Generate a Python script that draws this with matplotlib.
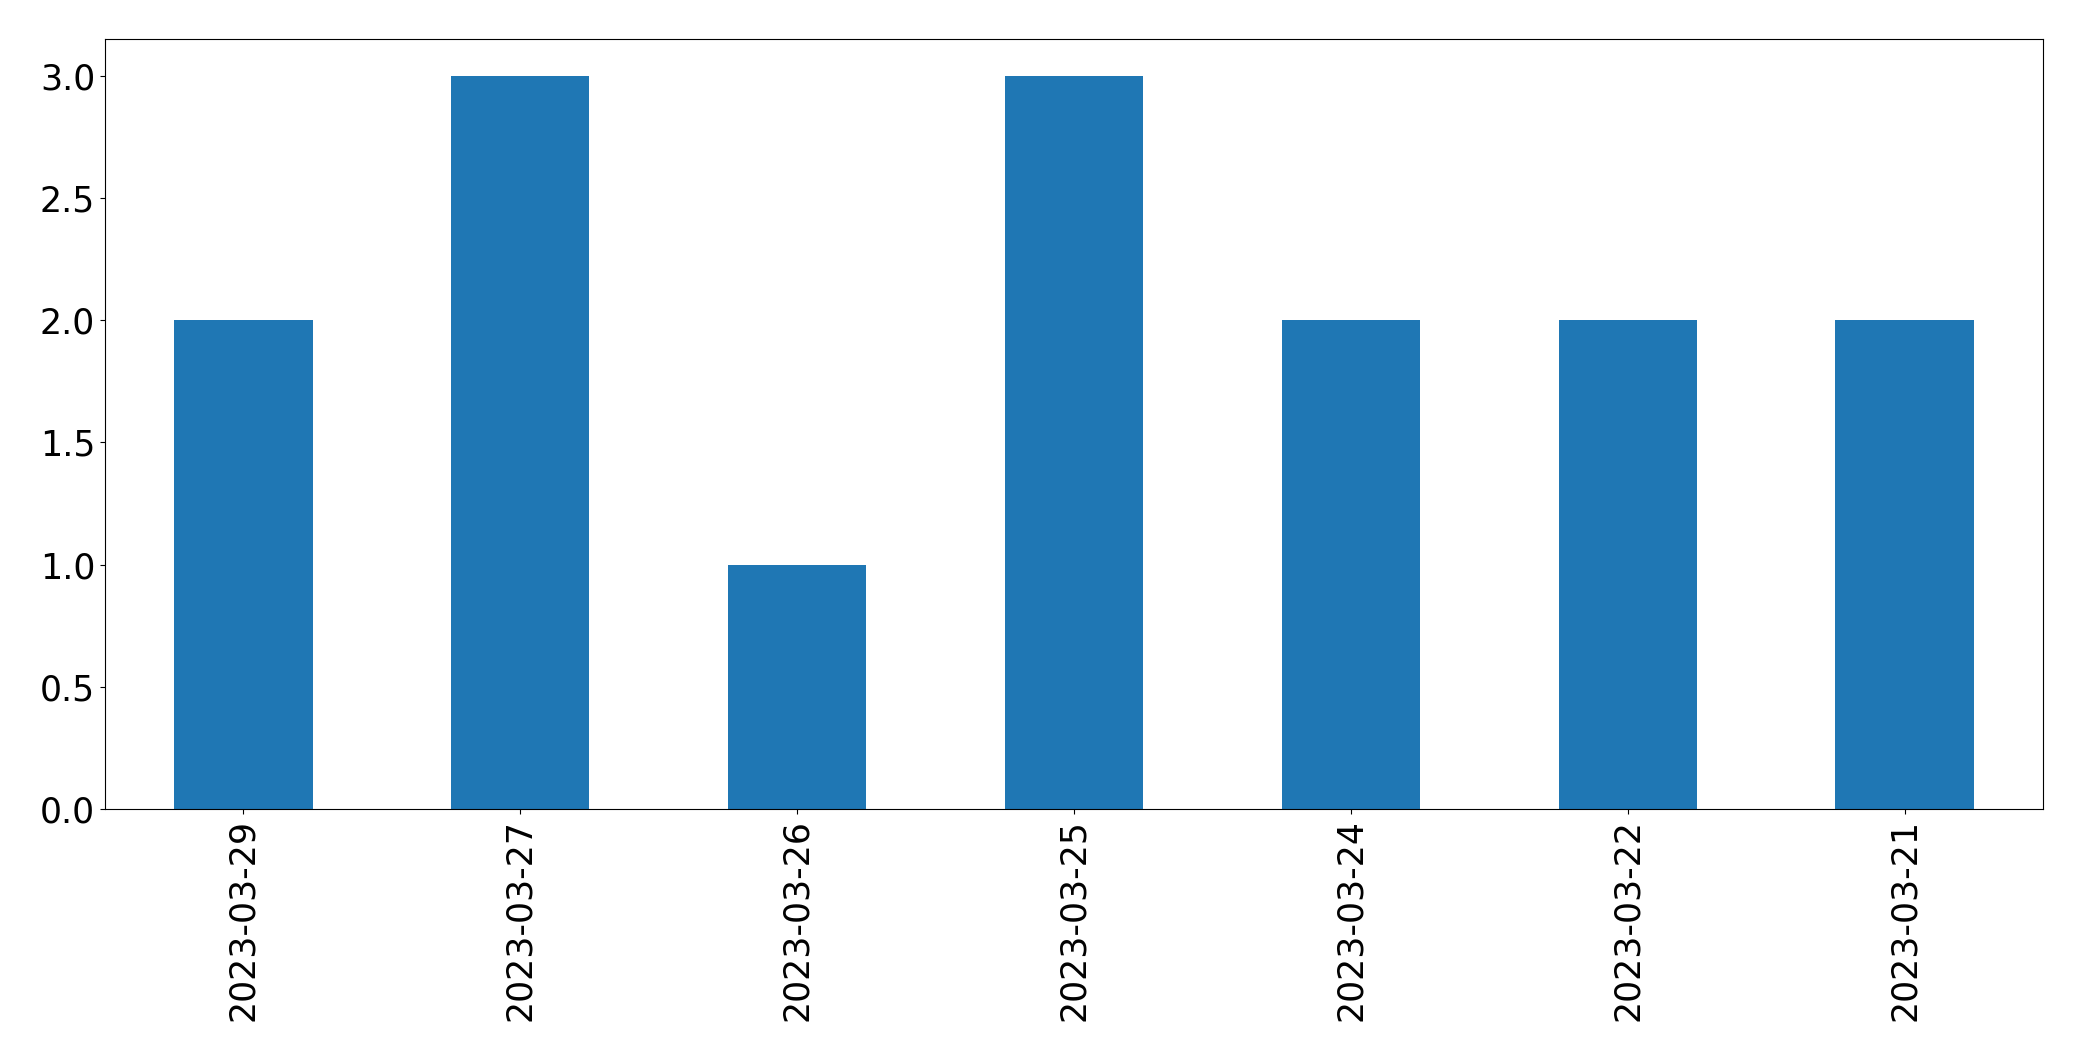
import matplotlib
matplotlib.use("Agg")
import matplotlib.pyplot as plt
import pandas as pd

# counts per day
dates = ['2023-03-29', '2023-03-27', '2023-03-26', '2023-03-25',
         '2023-03-24', '2023-03-22', '2023-03-21']
counts = [2, 3, 1, 3, 2, 2, 2]

s = pd.Series(counts, index=dates)

fig = plt.figure(figsize=(20.82, 10.61), dpi=100)
ax = fig.add_subplot(1, 1, 1)
s.plot(kind='bar', ax=ax, fontsize=25)

fig.subplots_adjust(left=0.0504, right=0.9813, top=0.963, bottom=0.2375)
fig.savefig('out.png', dpi=100)
